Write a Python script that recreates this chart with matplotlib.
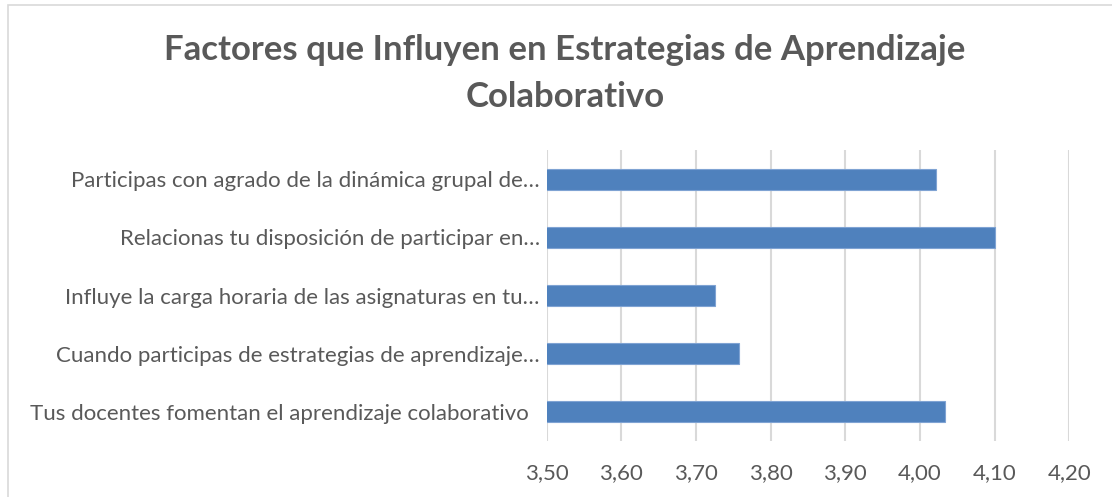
import matplotlib.pyplot as plt
from matplotlib.patches import Rectangle

# data (bottom to top, as drawn)
categories = [
    "Tus docentes fomentan el aprendizaje colaborativo  ",
    "Cuando participas de estrategias de aprendizaje…",
    "Influye la carga horaria de las asignaturas en tu…",
    "Relacionas tu disposición de participar en…",
    "Participas con agrado de la dinámica grupal de…",
]
values = [4.033, 3.758, 3.726, 4.10, 4.022]
x_ticks = [3.50, 3.60, 3.70, 3.80, 3.90, 4.00, 4.10, 4.20]
x_tick_labels = ["3,50", "3,60", "3,70", "3,80", "3,90", "4,00", "4,10", "4,20"]

title = "Factores que Influyen en Estrategias de Aprendizaje\nColaborativo"

plt.rcParams["font.family"] = ["Lato", "DejaVu Sans"]
text_color = "#595959"
grid_color = "#D9D9D9"
bar_color = "#4F81BD"

W, H = 1112, 497
fig = plt.figure(figsize=(W / 100, H / 100), dpi=100)

# outer chart border
fig.patches.append(Rectangle((8 / W, -0.05), 1.2, 1 - 5 / H + 0.05,
                             transform=fig.transFigure, fill=False,
                             edgecolor=grid_color, linewidth=1.2))

ax = fig.add_axes([546.7 / W, 1 - 441 / H, (1069.3 - 546.7) / W, (441 - 150) / H])
ax.barh(range(len(categories)), values, height=0.36, color=bar_color,
        edgecolor="#7FA3D3", linewidth=0.8, zorder=3)

ax.set_xlim(3.5, 4.2)
ax.set_ylim(-0.5, len(categories) - 0.5)
ax.set_xticks(x_ticks)
ax.set_xticklabels(x_tick_labels)
ax.set_yticks(range(len(categories)))
ax.set_yticklabels(categories)
ax.tick_params(axis="both", length=0, labelsize=16, colors=text_color)
ax.tick_params(axis="x", pad=16)
ax.tick_params(axis="y", pad=5)
ax.grid(axis="x", color=grid_color, linewidth=1.5, zorder=0)
for s in ax.spines.values():
    s.set_visible(False)

fig.text(565 / W, 1 - 73.5 / H, title, ha="center", va="center",
         fontsize=25, fontweight="bold", color=text_color, linespacing=1.55)

fig.savefig("out.png", dpi=100)
